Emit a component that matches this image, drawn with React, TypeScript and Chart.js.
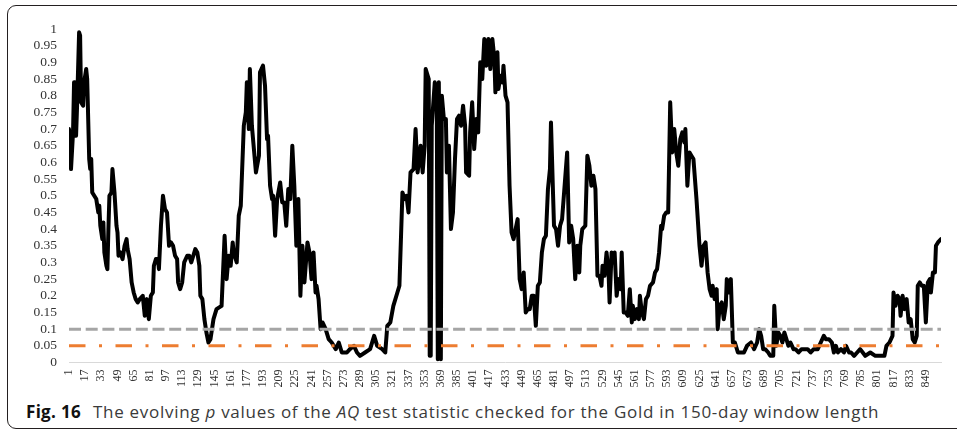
import React, { useEffect, useRef } from "react";
import { Chart, registerables } from "chart.js";

Chart.register(...registerables);

// Day index (window number) of each read vertex and its p value
const days: number[] = [
  1, 2, 3, 5, 6, 7, 8, 9, 11, 12, 13, 15, 16, 18, 19, 21, 22, 23, 24, 26, 28, 30, 31, 32, 34, 35, 36, 38, 39, 40,
  41, 43, 44, 46, 48, 49, 50, 52, 54, 56, 58, 59, 61, 63, 65, 67, 69, 71, 74, 76, 78, 80, 82, 84, 85, 87, 89, 90,
  92, 94, 96, 98, 100, 102, 104, 106, 108, 109, 111, 113, 115, 118, 120, 122, 124, 126, 128, 130, 131, 133, 135,
  137, 139, 141, 144, 147, 152, 155, 157, 159, 161, 163, 164, 167, 169, 171, 174, 176, 177, 179, 180, 182, 184,
  186, 189, 190, 193, 195, 197, 198, 200, 202, 203, 205, 207, 210, 212, 214, 216, 218, 220, 222, 224, 226, 228,
  230, 232, 234, 237, 239, 241, 243, 245, 246, 248, 250, 252, 255, 258, 261, 265, 268, 271, 276, 279, 283, 286,
  289, 294, 299, 303, 306, 311, 314, 316, 319, 322, 326, 328, 331, 333, 335, 337, 339, 342, 344, 346, 349, 351,
  353, 354, 357, 358, 359, 360, 363, 365, 366, 367, 369, 370, 372, 374, 375, 377, 379, 381, 383, 385, 387, 389,
  391, 393, 394, 397, 398, 400, 402, 404, 406, 408, 410, 412, 414, 416, 418, 420, 422, 423, 425, 426, 428, 430,
  431, 433, 435, 437, 439, 441, 443, 445, 447, 449, 451, 453, 455, 457, 459, 461, 463, 465, 467, 469, 471, 473,
  475, 477, 478, 480, 481, 483, 485, 487, 489, 491, 494, 496, 498, 500, 502, 504, 506, 507, 509, 512, 514, 516,
  518, 520, 522, 524, 526, 528, 529, 531, 533, 535, 536, 538, 540, 541, 543, 545, 547, 548, 550, 552, 554, 556,
  558, 559, 561, 563, 565, 566, 568, 570, 572, 574, 576, 579, 581, 583, 585, 587, 588, 590, 592, 594, 596, 598,
  600, 602, 604, 606, 608, 610, 611, 613, 615, 617, 619, 622, 625, 627, 629, 631, 633, 635, 637, 638, 640, 642,
  643, 645, 647, 649, 651, 652, 654, 656, 658, 660, 663, 666, 669, 672, 676, 679, 682, 684, 686, 688, 690, 693,
  695, 698, 699, 701, 703, 705, 707, 709, 711, 713, 715, 718, 720, 723, 726, 729, 732, 735, 738, 742, 745, 748,
  750, 753, 756, 758, 760, 762, 765, 768, 770, 773, 775, 778, 781, 784, 789, 794, 799, 804, 808, 810, 813, 816,
  817, 819, 821, 823, 824, 826, 828, 830, 832, 834, 836, 838, 840, 841, 843, 845, 847, 849, 851, 853, 854, 856,
  858, 859, 861, 864,
];

const pValues: number[] = [
  0.70, 0.65, 0.58, 0.69, 0.84, 0.84, 0.68, 0.77, 0.99, 0.98, 0.78, 0.77, 0.84, 0.88, 0.85, 0.61, 0.58, 0.61, 0.51,
  0.50, 0.49, 0.45, 0.47, 0.41, 0.37, 0.42, 0.33, 0.29, 0.28, 0.40, 0.50, 0.51, 0.58, 0.51, 0.41, 0.39, 0.32, 0.33,
  0.31, 0.35, 0.37, 0.34, 0.31, 0.24, 0.21, 0.19, 0.18, 0.19, 0.20, 0.14, 0.19, 0.13, 0.20, 0.21, 0.29, 0.31, 0.31,
  0.28, 0.41, 0.50, 0.46, 0.45, 0.35, 0.36, 0.35, 0.32, 0.31, 0.24, 0.22, 0.24, 0.30, 0.32, 0.32, 0.30, 0.32, 0.34,
  0.33, 0.29, 0.20, 0.19, 0.13, 0.09, 0.06, 0.07, 0.13, 0.16, 0.17, 0.38, 0.25, 0.32, 0.29, 0.36, 0.33, 0.30, 0.44,
  0.47, 0.71, 0.75, 0.84, 0.70, 0.88, 0.71, 0.64, 0.57, 0.62, 0.87, 0.89, 0.83, 0.67, 0.68, 0.53, 0.49, 0.50, 0.38,
  0.49, 0.54, 0.48, 0.48, 0.41, 0.52, 0.49, 0.65, 0.53, 0.35, 0.49, 0.20, 0.35, 0.24, 0.36, 0.33, 0.25, 0.33, 0.21,
  0.23, 0.19, 0.10, 0.12, 0.10, 0.07, 0.06, 0.04, 0.06, 0.03, 0.03, 0.04, 0.05, 0.03, 0.02, 0.03, 0.04, 0.08, 0.05,
  0.04, 0.03, 0.11, 0.12, 0.17, 0.21, 0.23, 0.51, 0.49, 0.50, 0.45, 0.57, 0.58, 0.70, 0.57, 0.65, 0.57, 0.65, 0.88,
  0.85, 0.02, 0.02, 0.71, 0.84, 0.76, 0.01, 0.84, 0.01, 0.80, 0.73, 0.73, 0.57, 0.65, 0.40, 0.45, 0.61, 0.73, 0.74,
  0.71, 0.77, 0.71, 0.57, 0.56, 0.69, 0.78, 0.64, 0.73, 0.69, 0.90, 0.85, 0.97, 0.89, 0.97, 0.88, 0.97, 0.91, 0.81,
  0.93, 0.82, 0.86, 0.84, 0.89, 0.80, 0.78, 0.53, 0.39, 0.37, 0.40, 0.43, 0.25, 0.22, 0.27, 0.15, 0.16, 0.16, 0.20,
  0.20, 0.11, 0.23, 0.24, 0.33, 0.37, 0.38, 0.52, 0.58, 0.72, 0.51, 0.41, 0.40, 0.35, 0.41, 0.43, 0.51, 0.63, 0.36,
  0.41, 0.37, 0.25, 0.35, 0.27, 0.35, 0.40, 0.41, 0.62, 0.59, 0.53, 0.56, 0.52, 0.26, 0.26, 0.23, 0.29, 0.26, 0.33,
  0.27, 0.18, 0.33, 0.30, 0.33, 0.20, 0.25, 0.22, 0.33, 0.15, 0.15, 0.14, 0.22, 0.12, 0.17, 0.13, 0.16, 0.13, 0.20,
  0.15, 0.13, 0.19, 0.20, 0.23, 0.24, 0.27, 0.28, 0.33, 0.41, 0.40, 0.44, 0.45, 0.45, 0.78, 0.63, 0.70, 0.63, 0.59,
  0.67, 0.69, 0.66, 0.70, 0.53, 0.63, 0.62, 0.61, 0.49, 0.35, 0.29, 0.35, 0.36, 0.27, 0.22, 0.20, 0.23, 0.19, 0.22,
  0.10, 0.17, 0.18, 0.13, 0.17, 0.25, 0.21, 0.25, 0.06, 0.06, 0.03, 0.03, 0.03, 0.05, 0.06, 0.04, 0.06, 0.10, 0.08,
  0.04, 0.04, 0.03, 0.02, 0.02, 0.17, 0.05, 0.09, 0.08, 0.06, 0.09, 0.07, 0.05, 0.06, 0.04, 0.04, 0.03, 0.04, 0.04,
  0.04, 0.03, 0.04, 0.04, 0.06, 0.08, 0.07, 0.07, 0.06, 0.03, 0.05, 0.03, 0.04, 0.03, 0.05, 0.03, 0.03, 0.02, 0.03,
  0.04, 0.02, 0.03, 0.02, 0.02, 0.02, 0.05, 0.06, 0.08, 0.21, 0.17, 0.20, 0.19, 0.14, 0.20, 0.16, 0.19, 0.12, 0.13,
  0.07, 0.06, 0.08, 0.23, 0.24, 0.23, 0.23, 0.12, 0.24, 0.25, 0.21, 0.27, 0.27, 0.35, 0.36, 0.37,
];

// Category tick labels shown on the horizontal axis
const tickLabels: number[] = [
  1, 17, 33, 49, 65, 81, 97, 113, 129, 145, 161, 177, 193, 209, 225, 241, 257, 273, 289, 305, 321, 337, 353, 369,
  385, 401, 417, 433, 449, 465, 481, 497, 513, 529, 545, 561, 577, 593, 609, 625, 641, 657, 673, 689, 705, 721, 737,
  753, 769, 785, 801, 817, 833, 849,
];

// Value-axis tick labels
const yTicks: number[] = [
  0, 0.05, 0.1, 0.15, 0.2, 0.25, 0.3, 0.35, 0.4, 0.45, 0.5, 0.55, 0.6, 0.65, 0.7, 0.75, 0.8, 0.85, 0.9, 0.95, 1,
];

const firstDay = 1;
const lastDay = 864;
const threshold10 = 0.1;
const threshold05 = 0.05;

export default function App() {
  const canvasRef = useRef<HTMLCanvasElement | null>(null);

  useEffect(() => {
    const canvas = canvasRef.current;
    if (!canvas) return;
    const series = days.map((d, i) => ({ x: d, y: pValues[i] }));
    const chart = new Chart(canvas, {
      type: "line",
      data: {
        datasets: [
          {
            label: "5%",
            data: [
              { x: firstDay, y: threshold05 },
              { x: lastDay, y: threshold05 },
            ],
            borderColor: "#ed7d31",
            borderWidth: 3,
            borderDash: [16.5, 13.5, 3, 13.5],
            pointRadius: 0,
            tension: 0,
          },
          {
            label: "10%",
            data: [
              { x: firstDay, y: threshold10 },
              { x: lastDay, y: threshold10 },
            ],
            borderColor: "#a5a5a5",
            borderWidth: 3,
            borderDash: [12, 4.7],
            pointRadius: 0,
            tension: 0,
          },
          {
            label: "p value",
            data: series,
            borderColor: "#000000",
            borderWidth: 4,
            borderJoinStyle: "round",
            borderCapStyle: "round",
            pointRadius: 0,
            tension: 0,
          },
        ],
      },
      options: {
        responsive: false,
        animation: false,
        devicePixelRatio: 1,
        layout: { padding: { left: 0, right: 16, top: 29, bottom: 0 } },
        plugins: { legend: { display: false }, tooltip: { enabled: false } },
        scales: {
          x: {
            type: "linear",
            min: firstDay,
            max: lastDay,
            afterBuildTicks: (scale: any) => {
              scale.ticks = tickLabels.map((v) => ({ value: v }));
            },
            afterFit: (scale: any) => {
              scale.height = 37.5;
            },
            grid: { display: false, drawTicks: false },
            border: { display: true, color: "#d9d9d9", width: 1 },
            ticks: {
              autoSkip: false,
              minRotation: 90,
              maxRotation: 90,
              padding: 7,
              color: "#333333",
              font: { family: "'Liberation Serif', 'Times New Roman', serif", size: 12 },
              callback: (v: any) => String(v),
            },
          },
          y: {
            min: 0,
            max: 1,
            afterBuildTicks: (scale: any) => {
              scale.ticks = yTicks.map((v) => ({ value: v }));
            },
            afterFit: (scale: any) => {
              scale.width = 69;
            },
            grid: { display: false, drawTicks: false },
            border: { display: false },
            ticks: {
              autoSkip: false,
              padding: 12,
              color: "#333333",
              font: { family: "'Liberation Serif', 'Times New Roman', serif", size: 13.5 },
              callback: (v: any) => String(Number(Number(v).toFixed(2))),
            },
          },
        },
      },
    });
    return () => chart.destroy();
  }, []);

  return (
    <div style={{ position: "fixed", left: 0, top: 0, width: 957, height: 433, background: "#fff", overflow: "hidden" }}>
      <div
        style={{
          position: "absolute",
          left: 7,
          top: 5,
          width: 980,
          height: 424,
          border: "1.4px solid #231f20",
          borderRadius: 9,
          boxSizing: "border-box",
        }}
      />
      <canvas
        ref={canvasRef}
        width={957}
        height={400}
        style={{ position: "absolute", left: 0, top: 0, width: 957, height: 400 }}
      />
      <div
        style={{
          position: "absolute",
          left: 26,
          top: 401,
          whiteSpace: "nowrap",
          fontFamily: "'Open Sans', 'Noto Sans', sans-serif",
          fontSize: 17,
          letterSpacing: 0.72,
          lineHeight: "22px",
          color: "#3a3a3a",
        }}
      >
        <span style={{ fontWeight: 700, color: "#111", letterSpacing: 0.3 }}>Fig. 16</span>
        <span style={{ marginLeft: 12 }}>The evolving </span>
        <i>p</i>
        <span> values of the </span>
        <i>AQ</i>
        <span> test statistic checked for the Gold in 150-day window length</span>
      </div>
    </div>
  );
}
